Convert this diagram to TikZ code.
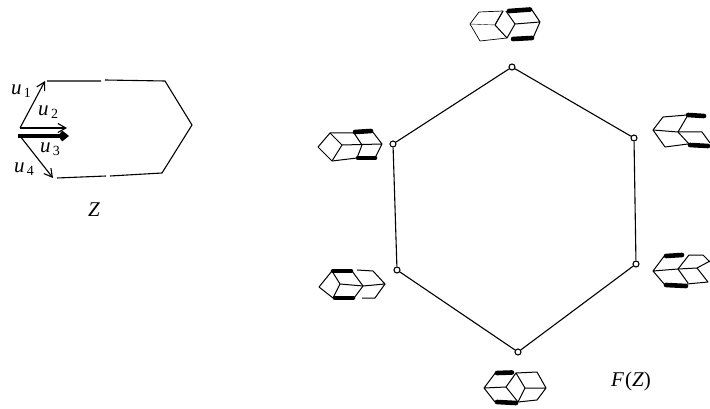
\documentclass[tikz,border=0pt]{standalone}
\usepackage{fontspec}
\setmainfont{Liberation Serif}
\usetikzlibrary{arrows.meta}
\newcommand{\ulab}[1]{\textit{u}\kern2.5pt\raisebox{-3pt}{\fontsize{14}{14}\selectfont #1}}
\tikzset{
  edge/.style={line width=1.1pt,black},
  vec/.style={line width=1.1pt,-{Straight Barb[length=8pt,width=9pt]}},
  thickvec/.style={line width=3.6pt,-{Straight Barb[length=5pt,width=8pt]}},
  vtx/.style={circle,draw,line width=1.1pt,fill=white,minimum size=6pt,inner sep=0pt},
  lab/.style={inner sep=0pt,font=\fontsize{21}{21}\selectfont},
  tile/.style={line width=1pt,line join=round},
  thintile/.style={line width=0.7pt,line join=round},
  faint/.style={line width=0.4pt,line join=round},
  heavy/.style={line width=4.6pt,line cap=round}
}
\begin{document}
\begin{tikzpicture}[x=1pt,y=-1pt]
\useasboundingbox (0,0) rectangle (710,409);
% Z
\coordinate (o1) at (20,128);
\coordinate (t1) at (45,81);
\coordinate (o2) at (20,128);
\coordinate (t2) at (67,128);
\coordinate (o3) at (18,136);
\coordinate (t3) at (69,136);
\coordinate (o4) at (20,136);
\coordinate (t4) at (53,178);
\coordinate (zA) at (47,81);
\coordinate (zB) at (101,81);
\coordinate (zC) at (105,80);
\coordinate (zD) at (165,81);
\coordinate (zE) at (192,125);
\coordinate (zF) at (162,173);
\coordinate (zG) at (110,176);
\coordinate (zH) at (106,176);
\coordinate (zI) at (57,178);
\draw[edge] (zA) -- (zB) (zC) -- (zD) -- (zE) -- (zF) -- (zG) (zH) -- (zI);
\draw[vec] (o1) -- (t1);
\draw[vec] (o2) -- (t2);
\draw[vec] (o4) -- (t4);
\draw[thickvec] (o3) -- (t3);
\node[lab] (u1) at (21,91) {\ulab{1}};
\node[lab] (u2) at (48,112) {\ulab{2}};
\node[lab] (u3) at (50,149) {\ulab{3}};
\node[lab] (u4) at (24,169) {\ulab{4}};
\node[lab] (zl) at (94,210) {\textit{Z}};
\node[lab] (fl) at (631,381) {\textit{F}\kern1pt(\textit{Z})};
% hexagon
\node[vtx] (a) at (512,67) {};
\node[vtx] (b) at (634,138) {};
\node[vtx] (c) at (636,264) {};
\node[vtx] (d) at (518,352) {};
\node[vtx] (e) at (397,270) {};
\node[vtx] (f) at (393,144) {};
\draw[edge] (a) -- (b) -- (c) -- (d) -- (e) -- (f) -- (a);
% top tiling
\draw[thintile] (470,24) -- (479,12) -- (503,11) -- (495,25);
\draw[tile] (503,11) -- (495,25) -- (507,38) -- (515,24) -- (506,11);
\draw[thintile] (470,24) -- (480,41) -- (507,38);
\draw[faint] (470,24) -- (495,25);
\draw[tile] (515,24) -- (540,22) -- (532,10) (540,22) -- (533,38);
\draw[heavy] (509,11) -- (530,9.5);
\draw[heavy] (513,39) -- (532,38);
% upper right tiling
\draw[tile] (653,130) -- (663,117) -- (687,115) (653,130) -- (665,147) -- (688,144);
\draw[tile] (653,130) -- (678,132) -- (702,132) -- (710,143);
\draw[tile] (678,132) -- (688,115) (678,132) -- (689,144);
\draw[heavy] (688,115) -- (704,116);
\draw[heavy] (690,145) -- (708,146);
% lower right tiling
\draw[tile] (653,271) -- (665,255) (653,271) -- (665,285) (653,271) -- (678,269) -- (697,268) -- (708,282) -- (687,284);
\draw[tile] (678,269) -- (689,255) -- (703,255) -- (710,262);
\draw[tile] (678,269) -- (688,283) (697,268) -- (710,261);
\draw[heavy] (666,256) -- (682,255);
\draw[heavy] (666,285) -- (686,286);
% bottom tiling
\draw[tile] (484,388) -- (496,372) (484,388) -- (495,402) (484,388) -- (506,387) -- (516,373) -- (525,388) -- (518,402) -- (506,387);
\draw[tile] (516,373) -- (537,372) -- (546,388) -- (537,400) -- (518,402) (525,388) -- (546,388);
\draw[heavy] (497,373) -- (512,372.5);
\draw[heavy] (497,402) -- (516,403);
% upper left tiling
\draw[tile] (318,147) -- (330,133) -- (342,145) -- (332,161) -- (318,147);
\draw[tile] (330,133) -- (354,133) -- (362,145) -- (357,158) -- (332,161);
\draw[tile] (342,145) -- (382,144) -- (372,131) (382,144) -- (375,158);
\draw[heavy] (355,132) -- (371,131);
\draw[heavy] (358,158) -- (375,158);
% lower left tiling
\draw[tile] (319,287) -- (332,271) -- (340,284) -- (333,298) -- (319,287);
\draw[tile] (340,284) -- (363,286) -- (385,284) -- (373,271) -- (357,270);
\draw[tile] (352,271) -- (363,286) -- (354,298);
\draw[tile] (385,284) -- (375,298) -- (362,298);
\draw[heavy] (333,271) -- (351,271);
\draw[heavy] (335,298) -- (353,298);
\end{tikzpicture}
\end{document}
